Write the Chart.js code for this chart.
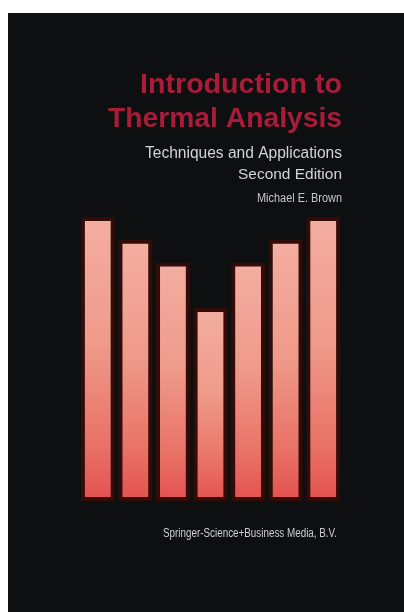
<!DOCTYPE html>
<html>
<head>
<meta charset="utf-8">
<script src="https://cdn.jsdelivr.net/npm/chart.js@4/dist/chart.umd.min.js"></script>
<style>
  html, body { margin: 0; padding: 0; background: #ffffff; }
  #wrap { position: relative; width: 404px; height: 612px; }
</style>
</head>
<body>
<div id="wrap"><canvas id="c" width="404" height="612"></canvas></div>
<script>
// ---- data ----
const categories = ['1', '2', '3', '4', '5', '6', '7'];
const barValues = [100, 92, 84, 68, 84, 92, 100];
const titleLines = ['Introduction to', 'Thermal Analysis'];
const subtitleLines = ['Techniques and Applications', 'Second Edition'];
const authorText = 'Michael E. Brown';
const publisherText = 'Springer-Science+Business Media, B.V.';

// ---- text layout (right edge, baseline, target width, font) ----
const textLayout = [
  { text: titleLines[0], right: 342, base: 93, width: 202, size: 28, weight: 'bold', color: '#a81c3a' },
  { text: titleLines[1], right: 342, base: 127, width: 234, size: 28, weight: 'bold', color: '#a81c3a' },
  { text: subtitleLines[0], right: 342, base: 158, width: 197, size: 16, weight: 'normal', color: '#d4d4d4' },
  { text: subtitleLines[1], right: 342, base: 179, width: 104, size: 15, weight: 'normal', color: '#d4d4d4' },
  { text: authorText, right: 342, base: 202, width: 85, size: 12, weight: 'normal', color: '#c8c8c8' },
  { text: publisherText, right: 337, base: 537, width: 174, size: 12, weight: 'normal', color: '#cfcfcf' }
];

const coverPlugin = {
  id: 'cover',
  beforeDraw(chart) {
    const ctx = chart.ctx;
    ctx.save();
    ctx.fillStyle = '#ffffff';
    ctx.fillRect(0, 0, 404, 612);
    ctx.fillStyle = '#0e0f11';
    ctx.fillRect(8, 13, 396, 599);
    ctx.restore();
  },
  afterDraw(chart) {
    const ctx = chart.ctx;
    textLayout.forEach(t => {
      ctx.save();
      ctx.font = t.weight + ' ' + t.size + 'px "Liberation Sans Narrow", "Liberation Sans", Arial, sans-serif';
      const w = ctx.measureText(t.text).width;
      const sx = t.width / w;
      ctx.translate(t.right, t.base);
      ctx.scale(sx, 1);
      ctx.fillStyle = t.color;
      ctx.textAlign = 'right';
      ctx.textBaseline = 'alphabetic';
      ctx.fillText(t.text, 0, 0);
      ctx.restore();
    });
  }
};

function barGradient(context) {
  const chart = context.chart;
  const area = chart.chartArea;
  if (!area) return '#ec9484';
  const v = context.raw;
  const top = chart.scales.y.getPixelForValue(v);
  const bottom = chart.scales.y.getPixelForValue(0);
  const g = chart.ctx.createLinearGradient(0, top, 0, bottom);
  g.addColorStop(0, '#f4aea2');
  g.addColorStop(0.45, '#ef9a8a');
  g.addColorStop(0.8, '#e97266');
  g.addColorStop(1, '#e4514f');
  return g;
}

new Chart(document.getElementById('c'), {
  type: 'bar',
  data: {
    labels: categories,
    datasets: [{
      data: barValues,
      backgroundColor: barGradient,
      borderColor: '#340b07',
      borderWidth: 4,
      borderSkipped: false,
      barPercentage: 0.9,
      categoryPercentage: 1.0
    }]
  },
  options: {
    responsive: false,
    animation: false,
    devicePixelRatio: 1,
    layout: { padding: { left: 79, right: 62, top: 217, bottom: 111 } },
    plugins: { legend: { display: false }, tooltip: { enabled: false }, title: { display: false } },
    scales: {
      x: { display: false },
      y: { display: false, min: 0, max: 100 }
    }
  },
  plugins: [coverPlugin]
});
</script>
</body>
</html>
